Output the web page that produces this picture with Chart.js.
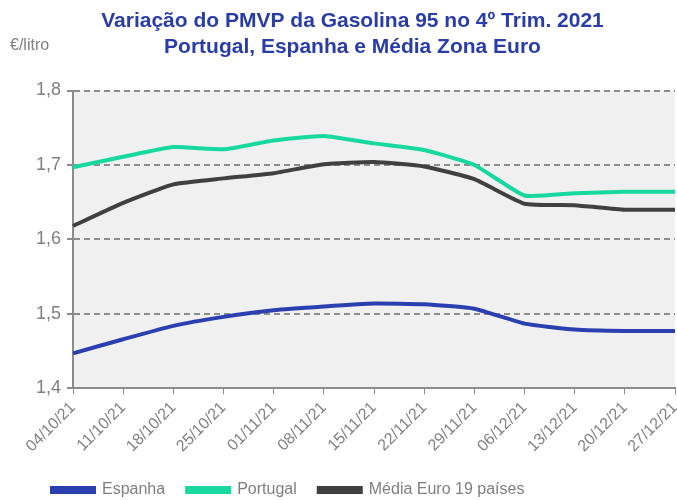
<!DOCTYPE html>
<html>
<head>
<meta charset="utf-8">
<script src="https://cdn.jsdelivr.net/npm/chart.js@4"></script>
<style>
  body { margin: 0; background: #fff; }
  #wrap { width: 677px; height: 500px; position: relative; }
</style>
</head>
<body>
<div id="wrap"><canvas id="myChart"></canvas></div>
<script>
const labels = ["04/10/21","11/10/21","18/10/21","25/10/21","01/11/21","08/11/21","15/11/21","22/11/21","29/11/21","06/12/21","13/12/21","20/12/21","27/12/21"];
const espanha = [1.447, 1.466, 1.484, 1.496, 1.505, 1.510, 1.514, 1.513, 1.507, 1.487, 1.479, 1.477, 1.477];
const portugal = [1.697, 1.711, 1.724, 1.721, 1.733, 1.739, 1.729, 1.720, 1.700, 1.659, 1.662, 1.664, 1.664];
const mediaEuro = [1.618, 1.649, 1.674, 1.682, 1.689, 1.701, 1.704, 1.698, 1.681, 1.648, 1.646, 1.640, 1.640];

const font = "'Liberation Sans', Arial, sans-serif";

// grey plot background + the "€/litro" unit label
const extras = {
  id: "extras",
  beforeDraw(chart) {
    const { ctx, chartArea: a } = chart;
    ctx.save();
    ctx.fillStyle = "#f0f0f0";
    ctx.fillRect(a.left, a.top, a.right - a.left, a.bottom - a.top);
    ctx.fillStyle = "#7f7f7f";
    ctx.font = "16px " + font;
    ctx.textBaseline = "middle";
    ctx.fillText("€/litro", 10, 46);
    ctx.restore();
  },
};

const ctx = document.getElementById("myChart");

new Chart(ctx, {
  type: "line",
  data: {
    labels: labels,
    datasets: [
      { label: "Espanha", data: espanha, borderColor: "#2b3fb1", backgroundColor: "#2b3fb1" },
      { label: "Portugal", data: portugal, borderColor: "#17d9a0", backgroundColor: "#17d9a0" },
      { label: "Média Euro 19 países", data: mediaEuro, borderColor: "#404040", backgroundColor: "#404040" },
    ],
  },
  options: {
    responsive: true,
    maintainAspectRatio: false,
    animation: false,
    layout: { padding: { left: 30, right: 2, top: 2, bottom: -8 } },
    elements: {
      line: { borderWidth: 4, tension: 0.15 },
      point: { radius: 0 },
    },
    plugins: {
      title: {
        display: true,
        text: ["Variação do PMVP da Gasolina 95 no 4º Trim. 2021", "Portugal, Espanha e Média Zona Euro"],
        color: "#2a3ca8",
        font: { family: font, size: 21, weight: "bold", lineHeight: 1.25 },
        padding: { top: 6, bottom: 30 },
      },
      legend: {
        position: "bottom",
        align: "start",
        labels: {
          boxWidth: 42,
          boxHeight: 4,
          color: "#7f7f7f",
          font: { family: font, size: 16 },
          padding: 22,
        },
      },
      tooltip: { enabled: false },
    },
    scales: {
      x: {
        offset: false,
        afterFit(scale) { scale.paddingRight = 0; },
        grid: { drawOnChartArea: false, drawTicks: true, tickLength: 6, color: "#8c8c8c" },
        border: { color: "#8c8c8c", width: 2 },
        ticks: {
          color: "#7f7f7f",
          font: { family: font, size: 16 },
          maxRotation: 45,
          minRotation: 45,
          autoSkip: false,
          padding: 4,
        },
      },
      y: {
        min: 1.4,
        max: 1.8,
        grid: { color: "#8c8c8c", lineWidth: 2, tickLength: 6 },
        border: { color: "#8c8c8c", width: 2, dash: [6, 4] },
        ticks: {
          stepSize: 0.1,
          color: "#7f7f7f",
          font: { family: font, size: 18 },
          padding: 6,
          callback: (v) => v.toFixed(1).replace(".", ","),
        },
      },
    },
  },
  plugins: [extras],
});
</script>
</body>
</html>
